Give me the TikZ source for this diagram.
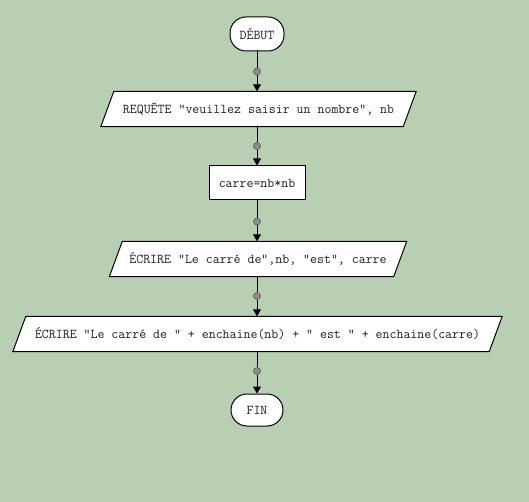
\documentclass[tikz,border=0pt]{standalone}
\usepackage{fontspec}
\usetikzlibrary{arrows.meta,calc,backgrounds}

\definecolor{canvas}{RGB}{185,207,180}
\definecolor{ink}{RGB}{30,30,30}
\definecolor{dotfill}{RGB}{140,140,140}
\definecolor{dotline}{RGB}{85,85,85}

\tikzset{
  label text/.style={text=ink, inner sep=0pt,
    font=\fontsize{13.5}{15}\selectfont\ttfamily},
  base/.style={label text, draw=black, line width=1pt, fill=white},
  terminal/.style={base, rectangle, rounded corners=16pt,
    minimum width=54pt, minimum height=34pt},
  process/.style={base, rectangle, minimum width=96pt, minimum height=34pt},
  % text area of an input/output step; its slanted frame is drawn behind it
  iotext/.style={label text, rectangle, minimum height=35pt},
  ioframe/.style={draw=black, line width=1pt, fill=white, line join=miter},
  junction/.style={circle, draw=dotline, fill=dotfill, line width=0.6pt,
    minimum size=7pt, inner sep=0pt},
  link/.style={draw=black, line width=1pt},
  flow/.style={link, -{Triangle[length=7pt,width=8pt]}}
}
% slanted frame round a named text node: #1 node, #2 half the horizontal slant
\newcommand\ioframeof[2]{%
  \draw[ioframe] ([xshift=#2]#1.north west) -- ([xshift=#2]#1.north east)
    -- ([xshift=-#2]#1.south east) -- ([xshift=-#2]#1.south west) -- cycle;}

\begin{document}
\begin{tikzpicture}[x=1pt, y=-1pt]
  \begin{scope}[on background layer]
    \fill[canvas] (0,0) rectangle (529,502);
  \end{scope}
  \useasboundingbox (0,0) rectangle (529,502);

  % steps of the flowchart, top to bottom
  \node[terminal] (start) at (257,34) {DÉBUT};
  \node[iotext, minimum width=302pt] (ask) at (258.5,109)
    {REQUÊTE "veuillez saisir un nombre", nb};
  \node[process] (square) at (257,183) {carre=nb*nb};
  \node[iotext, minimum width=284pt] (out1) at (258,259)
    {ÉCRIRE "Le carré de",nb, "est", carre};
  \node[iotext, minimum width=476pt] (out2) at (257.5,334)
    {ÉCRIRE "Le carré de " + enchaine(nb) + " est " + enchaine(carre)};
  \node[terminal, minimum width=52pt, minimum height=32pt] (stop) at (257,410) {FIN};

  \begin{scope}[on background layer]
    \ioframeof{ask}{6.5pt}
    \ioframeof{out1}{6.5pt}
    \ioframeof{out2}{6.5pt}
  \end{scope}

  % junction dots under each step
  \node[junction] (j1) at ($(start.south)+(0,20)$) {};
  \node[junction] (j2) at (257,146) {};
  \node[junction] (j3) at ($(square.south)+(0,21)$) {};
  \node[junction] (j4) at (257,296) {};
  \node[junction] (j5) at (257,371) {};

  % connectors
  \draw[link] (start.south) -- (j1);          \draw[flow] (j1) -- (j1 |- ask.north);
  \draw[link] (j2 |- ask.south) -- (j2);      \draw[flow] (j2) -- (square.north);
  \draw[link] (square.south) -- (j3);         \draw[flow] (j3) -- (j3 |- out1.north);
  \draw[link] (j4 |- out1.south) -- (j4);     \draw[flow] (j4) -- (j4 |- out2.north);
  \draw[link] (j5 |- out2.south) -- (j5);     \draw[flow] (j5) -- (stop.north);
\end{tikzpicture}
\end{document}
